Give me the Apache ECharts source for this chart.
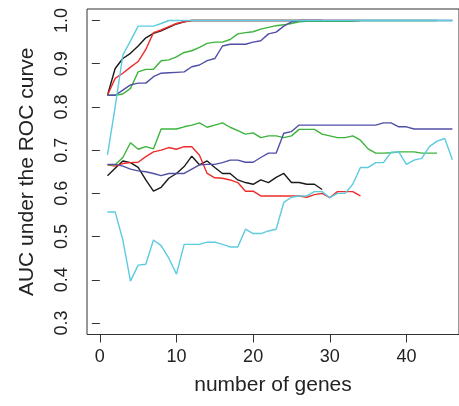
<!DOCTYPE html>
<html>
<head>
<meta charset="utf-8">
<script src="https://cdn.jsdelivr.net/npm/echarts@6/dist/echarts.min.js"></script>
<style>
html,body{margin:0;padding:0;background:#fff;}
#chart{width:459px;height:406px;}
</style>
</head>
<body>
<div id="chart"></div>
<script>
// number of genes (x positions)
const numGenes = [1,2,3,4,5,6,7,8,9,10,11,12,13,14,15,16,17,18,19,20,21,22,23,24,25,26,27,28,29,30,31,32,33,34,35,36,37,38,39,40,41,42,43,44,45,46];

// upper curves
const blackUpper = [0.827,0.889,0.912,0.924,0.941,0.960,0.970,0.976,0.984,0.992,0.997,1,1,1,1,1,1,1,1,1,1,1,1,1,1,1,1,1,1];
const redUpper = [0.827,0.866,0.878,0.892,0.905,0.933,0.972,0.978,0.986,0.993,0.997,1,1,1,1,1,1,1,1,1,1,1,1,1,1,1,1,1,1,1,1,1,1,1];
const greenUpper = [0.827,0.827,0.830,0.843,0.881,0.887,0.887,0.907,0.909,0.916,0.926,0.930,0.938,0.947,0.950,0.950,0.956,0.969,0.972,0.974,0.980,0.984,0.988,0.990,0.993,0.997,0.998,0.998,0.998,0.998,0.998,0.998,0.998,1,1,1,1,1,1,1,1,1,1,1];
const blueUpper = [0.827,0.827,0.839,0.851,0.855,0.855,0.870,0.878,0.879,0.880,0.881,0.893,0.897,0.907,0.912,0.941,0.945,0.945,0.945,0.950,0.953,0.969,0.973,0.987,0.997,1,1,1,1,1,1,1,1,1,1,1,1,1,1,1,1,1,1,1,1,1];
const cyanUpper = [0.689,0.800,0.920,0.953,0.987,0.987,0.987,0.993,1,1,1,1,1,1,1,1,1,1,1,1,1,1,1,1,1,1,1,1,1,1,1,1,1,1,1,1,1,1,1,1,1,1,1,1,1,1];

// lower curves
const blackLower = [0.641,0.658,0.675,0.671,0.660,0.631,0.605,0.614,0.635,0.646,0.662,0.686,0.666,0.675,0.660,0.646,0.646,0.631,0.625,0.621,0.631,0.625,0.637,0.646,0.625,0.625,0.621,0.621,0.609];
const redLower = [0.666,0.663,0.669,0.671,0.672,0.685,0.696,0.700,0.706,0.702,0.708,0.708,0.688,0.646,0.636,0.635,0.631,0.625,0.605,0.605,0.594,0.594,0.594,0.594,0.594,0.594,0.591,0.597,0.600,0.590,0.604,0.604,0.604,0.594];
const greenLower = [0.666,0.666,0.683,0.717,0.702,0.708,0.703,0.749,0.749,0.749,0.754,0.758,0.763,0.753,0.758,0.763,0.753,0.745,0.737,0.740,0.729,0.733,0.733,0.729,0.733,0.748,0.748,0.748,0.737,0.733,0.729,0.729,0.733,0.723,0.703,0.693,0.693,0.694,0.696,0.696,0.696,0.693,0.693,0.693];
const blueLower = [0.667,0.667,0.663,0.656,0.652,0.650,0.646,0.641,0.646,0.646,0.646,0.656,0.666,0.667,0.667,0.671,0.677,0.677,0.672,0.672,0.683,0.693,0.693,0.739,0.743,0.758,0.758,0.758,0.758,0.758,0.758,0.758,0.758,0.758,0.758,0.758,0.763,0.763,0.754,0.754,0.749,0.749,0.749,0.749,0.749,0.749];
const cyanLower = [0.557,0.557,0.492,0.397,0.434,0.436,0.492,0.479,0.450,0.413,0.482,0.482,0.482,0.487,0.487,0.482,0.476,0.476,0.517,0.507,0.507,0.513,0.517,0.579,0.591,0.594,0.594,0.604,0.604,0.590,0.600,0.600,0.621,0.660,0.660,0.671,0.671,0.695,0.696,0.667,0.677,0.681,0.708,0.721,0.727,0.678];

const xTicks = [0,10,20,30,40];
const yTicks = [0.3,0.4,0.5,0.6,0.7,0.8,0.9,1.0];

const colors = {black:'#1a1a1a', red:'#ee2c2c', green:'#3cb43c', blue:'#4f4fa6', cyan:'#5ccbe0'};

function pairs(vals){ return vals.map((v,i)=>[numGenes[i], v]); }
function mk(vals,color){
  return {type:'line', data:pairs(vals), symbol:'none', smooth:false, clip:true,
    lineStyle:{color:color, width:1.4}, itemStyle:{color:color}, silent:true};
}

const chart = echarts.init(document.getElementById('chart'), null, {renderer:'canvas'});
chart.setOption({
  animation:false,
  backgroundColor:'#fff',
  grid:{left:87, top:9, right:-5, bottom:71.5, show:true, borderColor:'#333', borderWidth:1, backgroundColor:'transparent'},
  xAxis:{type:'value', min:-1.674, max:46.86,
    name:'number of genes', nameLocation:'middle', nameGap:40,
    nameTextStyle:{fontFamily:'Liberation Sans', fontSize:21, color:'#222'},
    axisLine:{show:false},
    axisTick:{show:true, length:8, lineStyle:{color:'#333'}, customValues:xTicks},
    axisLabel:{fontFamily:'Liberation Sans', fontSize:18, color:'#222', margin:14, customValues:xTicks},
    splitLine:{show:false}},
  yAxis:{type:'value', min:0.2734, max:1.0266,
    name:'AUC under the ROC curve', nameLocation:'middle', nameGap:49, nameRotate:90,
    nameTextStyle:{fontFamily:'Liberation Sans', fontSize:21, color:'#222'},
    axisLine:{show:false},
    axisTick:{show:true, length:8, lineStyle:{color:'#333'}, customValues:yTicks},
    axisLabel:{fontFamily:'Liberation Sans', fontSize:18, color:'#222', margin:16, rotate:90,
      customValues:yTicks, formatter:v=>v.toFixed(1)},
    splitLine:{show:false}},
  series:[
    mk(blackUpper, colors.black), mk(blackLower, colors.black),
    mk(redUpper, colors.red), mk(redLower, colors.red),
    mk(greenUpper, colors.green), mk(greenLower, colors.green),
    mk(blueUpper, colors.blue), mk(blueLower, colors.blue),
    mk(cyanUpper, colors.cyan), mk(cyanLower, colors.cyan)
  ]
});
</script>
</body>
</html>
